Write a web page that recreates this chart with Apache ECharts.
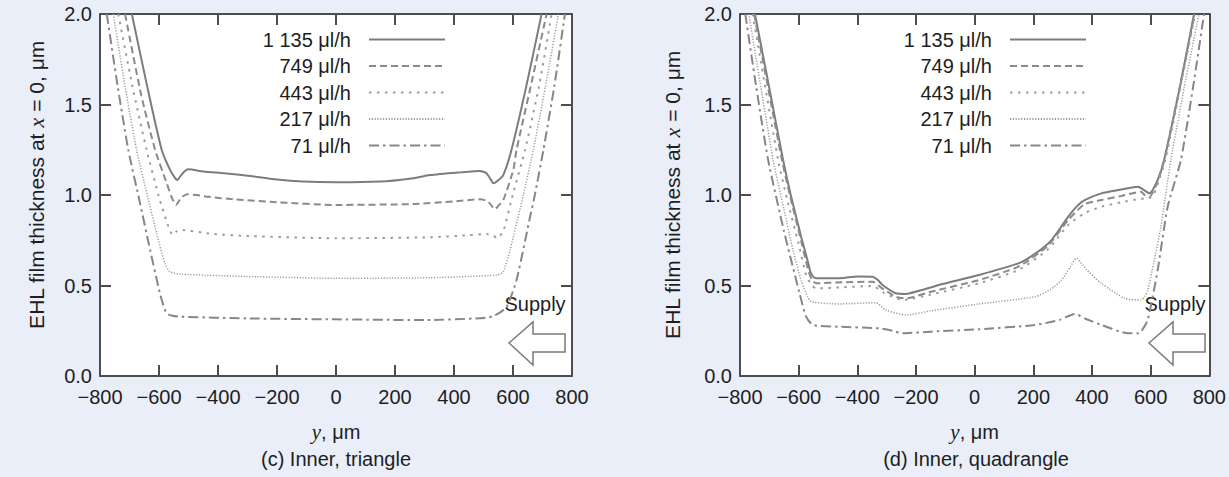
<!DOCTYPE html>
<html><head><meta charset="utf-8">
<script src="https://cdn.jsdelivr.net/npm/echarts@6/dist/echarts.min.js"></script>
<style>html,body{margin:0;padding:0;background:#e9eef8;}#chart{width:1229px;height:477px;}</style>
</head><body><div id="chart"></div>
<script>
// ---- data ----
const seriesNames = ['1 135 μl/h', '749 μl/h', '443 μl/h', '217 μl/h', '71 μl/h'];
const xTickValues = [-800, -600, -400, -200, 0, 200, 400, 600, 800];
const yTickValues = [0, 0.5, 1.0, 1.5, 2.0];
const captions = ['(c) Inner, triangle', '(d) Inner, quadrangle'];

// (c) Inner, triangle : [y (µm), film thickness (µm)]
const c1135 = [[-692,2.0],[-640,1.6],[-591,1.25],[-563,1.14],[-546,1.095],[-538,1.083],[-525,1.11],[-510,1.135],[-500,1.142],[-450,1.13],[-380,1.12],[-291,1.105],[-200,1.085],[-112,1.074],[0,1.07],[149,1.074],[250,1.09],[319,1.11],[420,1.125],[488,1.133],[510,1.12],[525,1.085],[533,1.065],[545,1.075],[567,1.11],[595,1.25],[645,1.6],[697,2.0]];
const c749 = [[-715,2.0],[-660,1.55],[-613,1.249],[-574,1.065],[-555,0.98],[-542,0.945],[-525,0.985],[-504,1.004],[-430,0.99],[-348,0.976],[-200,0.96],[0,0.945],[262,0.95],[400,0.965],[488,0.976],[515,0.965],[530,0.935],[539,0.921],[550,0.94],[567,0.972],[601,1.138],[612,1.249],[660,1.6],[714,2.0]];
const c443 = [[-738,2.0],[-690,1.6],[-642,1.249],[-597,0.972],[-568,0.825],[-554,0.779],[-540,0.8],[-529,0.807],[-420,0.785],[-292,0.773],[0,0.761],[319,0.766],[450,0.778],[511,0.785],[535,0.775],[545,0.761],[555,0.775],[567,0.797],[599,1.0],[641,1.249],[688,1.6],[731,2.0]];
const c217 = [[-755,2.0],[-715,1.6],[-676,1.249],[-640,1.0],[-608,0.788],[-580,0.622],[-563,0.576],[-529,0.563],[-300,0.55],[0,0.54],[319,0.543],[545,0.558],[567,0.576],[590,0.696],[635,1.0],[669,1.249],[710,1.6],[754,2.0]];
const c71 = [[-777,2.0],[-740,1.6],[-704,1.249],[-665,0.96],[-630,0.696],[-597,0.457],[-585,0.39],[-574,0.346],[-555,0.333],[-529,0.328],[-300,0.318],[0,0.313],[300,0.309],[488,0.319],[520,0.325],[533,0.331],[555,0.35],[579,0.383],[612,0.53],[658,0.88],[674,1.0],[703,1.249],[740,1.6],[776,2.0]];

// (d) Inner, quadrangle
const d1135 = [[-749,2.0],[-700,1.59],[-653,1.193],[-627,1.0],[-590,0.76],[-570,0.64],[-560,0.575],[-550,0.548],[-540,0.54],[-461,0.54],[-400,0.55],[-348,0.549],[-330,0.53],[-314,0.503],[-269,0.457],[-235,0.453],[-180,0.475],[-122,0.503],[14,0.558],[149,0.622],[210,0.68],[262,0.751],[319,0.88],[350,0.94],[375,0.972],[432,1.009],[500,1.03],[556,1.046],[575,1.03],[596,1.009],[624,1.083],[646,1.193],[700,1.6],[748,2.0]];
const d749 = [[-752,2.0],[-657,1.193],[-630,1.0],[-592,0.75],[-570,0.6],[-555,0.53],[-540,0.512],[-450,0.518],[-348,0.521],[-320,0.49],[-269,0.438],[-235,0.429],[-150,0.465],[14,0.53],[149,0.604],[250,0.72],[319,0.862],[375,0.95],[432,0.972],[500,0.995],[567,1.018],[580,1.0],[596,0.99],[624,1.075],[646,1.193],[700,1.6],[750,2.0]];
const d443 = [[-757,2.0],[-670,1.193],[-640,0.98],[-600,0.73],[-575,0.56],[-555,0.5],[-540,0.484],[-450,0.49],[-348,0.497],[-310,0.46],[-246,0.42],[-150,0.45],[14,0.512],[149,0.586],[250,0.7],[319,0.834],[375,0.9],[432,0.935],[500,0.96],[560,0.978],[590,0.981],[610,1.0],[630,1.09],[650,1.193],[702,1.6],[752,2.0]];
const d217 = [[-770,2.0],[-687,1.193],[-650,0.92],[-620,0.7],[-590,0.52],[-570,0.44],[-557,0.41],[-461,0.398],[-337,0.405],[-303,0.365],[-235,0.337],[-150,0.36],[14,0.398],[206,0.438],[260,0.48],[296,0.53],[325,0.6],[347,0.65],[380,0.59],[432,0.512],[511,0.429],[567,0.42],[580,0.44],[590,0.475],[610,0.62],[635,0.825],[669,1.193],[715,1.6],[765,2.0]];
const d71 = [[-782,2.0],[-745,1.6],[-704,1.193],[-650,0.8],[-597,0.457],[-575,0.33],[-551,0.282],[-461,0.272],[-325,0.263],[-280,0.25],[-246,0.236],[-150,0.245],[14,0.258],[206,0.282],[290,0.31],[341,0.343],[380,0.315],[432,0.282],[522,0.236],[555,0.236],[567,0.245],[590,0.309],[624,0.586],[658,0.935],[703,1.193],[745,1.6],[782,2.0]];

const chartData = [[c1135, c749, c443, c217, c71], [d1135, d749, d443, d217, d71]];

// ---- styles ----
const FONT = '"Liberation Sans", Arial, Helvetica, sans-serif';
const AXC = '#4d4d4d';
const TXT = '#1e1e1e';
const FS = 20;
const lineStyles = [
  {color: '#7c7c7c', width: 2, type: 'solid'},
  {color: '#8a8a8a', width: 2, type: [7, 4]},
  {color: '#9c9c9c', width: 2, type: [2.5, 5.5]},
  {color: '#9c9c9c', width: 1.5, type: [1.2, 1.6]},
  {color: '#878787', width: 2, type: [10, 4, 2.5, 4]}
];
const gridLefts = [100, 740];
const yNameGap = [53, 57];
const yNamePad = [[0, 0, 0, 20], [0, 0, 0, 0]];
const legendRight = [783, 142];

const chart = echarts.init(document.getElementById('chart'), null, {renderer: 'svg'});

const grids = [], xAxes = [], yAxes = [], series = [], legends = [], graphics = [];
const tickStyle = {color: AXC, width: 2};
const fmtX = v => String(v).replace('-', '\u2212');

for (let g = 0; g < 2; g++) {
  grids.push({left: gridLefts[g], top: 14, width: 472, height: 362, show: true, backgroundColor: '#ffffff', borderWidth: 0});
  const xBase = {gridIndex: g, type: 'value', min: xTickValues[0], max: xTickValues[xTickValues.length - 1], interval: 200,
    splitLine: {show: false}, axisLine: {show: true, onZero: false, lineStyle: {color: AXC, width: 2}},
    axisTick: {show: true, inside: true, length: 11, lineStyle: tickStyle}};
  xAxes.push(Object.assign({}, xBase, {position: 'bottom',
    axisLabel: {margin: 11, fontSize: FS, fontFamily: FONT, color: TXT, formatter: fmtX, showMinLabel: true, showMaxLabel: true},
    name: '{i|y}{a|, μm}', nameLocation: 'middle', nameGap: 45,
    nameTextStyle: {rich: {a: {fontSize: FS, fontFamily: FONT, color: TXT}, i: {fontSize: 21, fontFamily: '"Liberation Serif", serif', fontStyle: 'italic', color: TXT}}}}));
  xAxes.push(Object.assign({}, xBase, {position: 'top', axisLabel: {show: false}}));
  const yBase = {gridIndex: g, type: 'value', min: yTickValues[0], max: yTickValues[yTickValues.length - 1], interval: 0.5,
    splitLine: {show: false}, axisLine: {show: true, onZero: false, lineStyle: {color: AXC, width: 2}},
    axisTick: {show: true, inside: true, length: 11, lineStyle: tickStyle}};
  yAxes.push(Object.assign({}, yBase, {position: 'left',
    axisLabel: {margin: 8, fontSize: FS, fontFamily: FONT, color: TXT, formatter: v => v.toFixed(1)},
    name: '{a|EHL film thickness at }{i|x}{a| = 0, μm}', nameLocation: 'middle', nameGap: yNameGap[g],
    nameTextStyle: {padding: yNamePad[g], rich: {a: {fontSize: 21, fontFamily: FONT, color: TXT}, i: {fontSize: 22, fontFamily: '"Liberation Serif", serif', fontStyle: 'italic', color: TXT}}}}));
  yAxes.push(Object.assign({}, yBase, {position: 'right', axisLabel: {show: false}}));

  chartData[g].forEach((d, k) => {
    series.push({type: 'line', name: seriesNames[k], xAxisIndex: 2 * g, yAxisIndex: 2 * g, data: d,
      symbol: 'none', showSymbol: false, smooth: 0.2, clip: true, animation: false,
      lineStyle: lineStyles[k], itemStyle: {color: lineStyles[k].color}, emphasis: {disabled: true}, z: 3});
  });

  legends.push({orient: 'vertical', right: legendRight[g], top: 28.5, align: 'right', padding: 0,
    itemWidth: 76, itemHeight: 14, itemGap: 4.5, selectedMode: false, data: seriesNames,
    itemStyle: {opacity: 0, borderWidth: 0},
    textStyle: {fontSize: FS, fontFamily: FONT, color: TXT, lineHeight: 22, padding: [0, 13, 0, 0]}});

  const ox = gridLefts[g] - 100;
  graphics.push({type: 'text', x: 535 + ox, y: 304, style: {text: 'Supply', font: FS + 'px ' + FONT, fill: TXT, align: 'center', verticalAlign: 'middle'}});
  graphics.push({type: 'polygon', shape: {points: [[509 + ox, 343], [533 + ox, 322], [533 + ox, 334], [565 + ox, 334], [565 + ox, 352], [533 + ox, 352], [533 + ox, 365]]},
    style: {fill: '#ffffff', stroke: '#7a7a7a', lineWidth: 1.5}});
  graphics.push({type: 'text', x: 336 + ox, y: 459, style: {text: captions[g], font: FS + 'px ' + FONT, fill: TXT, align: 'center', verticalAlign: 'middle'}});
}

chart.setOption({
  backgroundColor: '#e9eef8',
  animation: false,
  grid: grids, xAxis: xAxes, yAxis: yAxes, series: series, legend: legends, graphic: graphics
});
</script>
</body></html>
